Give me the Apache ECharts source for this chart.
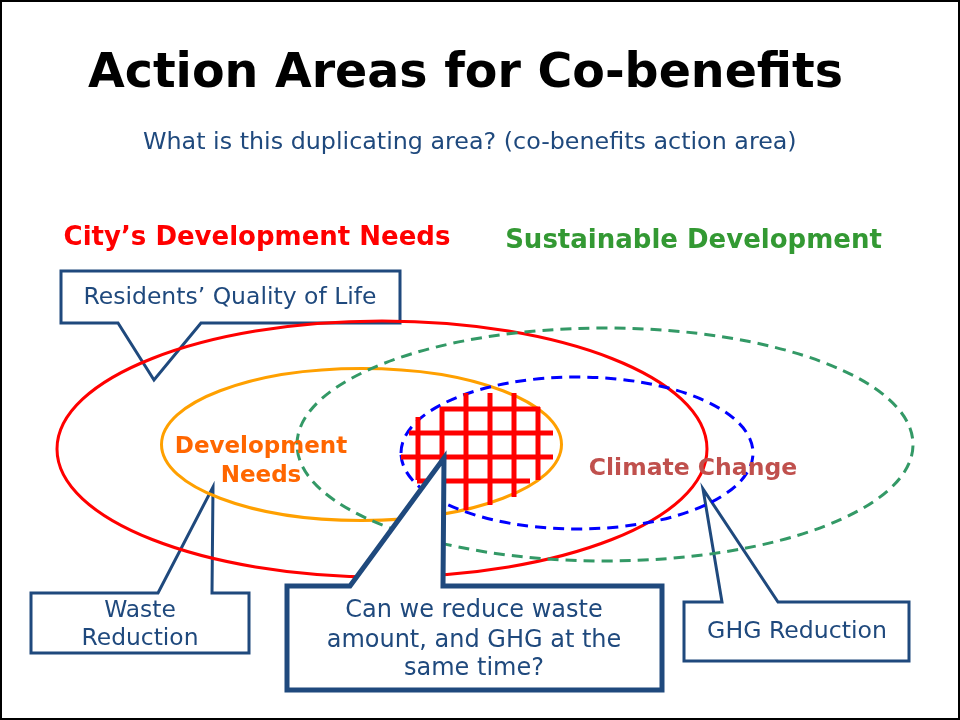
<!DOCTYPE html>
<html>
<head>
<meta charset="utf-8">
<script src="https://cdn.jsdelivr.net/npm/echarts@6/dist/echarts.min.js"></script>
<style>
html,body{margin:0;padding:0;background:#fff;}
#chart{width:960px;height:720px;}
</style>
</head>
<body>
<div id="chart"></div>
<script>
// ---- data (diagram coordinates on a 960 x 720 canvas scale) ----
const titleText = 'Action Areas for Co-benefits';
const subtitleText = 'What is this duplicating area? (co-benefits action area)';

const ellipseNames = ['City\u2019s Development Needs', 'Development Needs', 'Sustainable Development', 'Climate Change'];
const ellipseCX = [382, 361.5, 605, 577];
const ellipseCY = [449, 444.5, 444.5, 453];
const ellipseRX = [325, 200, 308, 176];
const ellipseRY = [128, 76, 116.5, 76];

// co-benefits grid (hatched overlap area)
const gridVX = [418, 442, 466, 490, 514, 538];
const gridVTop = [417, 407, 393, 393, 393, 407];
const gridVBottom = [480, 487, 510, 505, 497, 480];
const gridHY = [409, 433, 457, 481];
const gridHLeft = [441, 409, 401, 417];
const gridHRight = [540, 553, 553, 530];

// area labels
const areaLabels = ['City\u2019s Development Needs', 'Sustainable Development', 'Development', 'Needs', 'Climate Change'];
const areaLabelX = [257, 693.5, 261, 261, 693];
const areaLabelY = [238, 241, 447, 476, 469];

// callouts
const calloutNames = ['Residents\u2019 Quality of Life', 'Waste Reduction', 'GHG Reduction', 'Question'];
const calloutOutlines = [
  [[61,271],[400,271],[400,323],[201,323],[154,380],[118,323],[61,323]],
  [[31,593],[158,593],[213,487],[212,593],[249,593],[249,653],[31,653]],
  [[684,602],[722,602],[703,489],[778,602],[909,602],[909,661],[684,661]],
  [[287,586],[350,586],[444,458],[443,586],[662,586],[662,690],[287,690]]
];
const calloutLines = [
  ['Residents\u2019 Quality of Life'],
  ['Waste', 'Reduction'],
  ['GHG Reduction'],
  ['Can we reduce waste', 'amount, and GHG at the', 'same time?']
];
const calloutTextX = [230, 140, 797, 474];
const calloutTextY = [[298], [611, 639], [632], [611, 641, 669]];

// ---- styles ----
const ellipseStyles = [
  {stroke: '#FF0000', lineWidth: 3},
  {stroke: '#FFA000', lineWidth: 3},
  {stroke: '#339966', lineWidth: 3, lineDash: [11, 7]},
  {stroke: '#0000FF', lineWidth: 3, lineDash: [11, 7]}
];
const areaLabelColors = ['#FF0000', '#339933', '#FF6600', '#FF6600', '#C0504D'];
const areaLabelFont = ['bold 26px "DejaVu Sans"', 'bold 26px "DejaVu Sans"', 'bold 23px "DejaVu Sans"', 'bold 23px "DejaVu Sans"', 'bold 23.5px "DejaVu Sans"'];
const navy = '#1F497D';
const calloutWidth = [3, 3, 3, 5];
const calloutFill = [null, null, null, '#FFFFFF'];
const calloutFont = ['23.5px "DejaVu Sans"', '23.4px "DejaVu Sans"', '23.6px "DejaVu Sans"', '24px "DejaVu Sans"'];
const calloutZ = [1, 1, 1, 5];

const chart = echarts.init(document.getElementById('chart'), null, {renderer: 'canvas'});

function pt(api, p) { return api.coord(p); }

const series = [];

// small callouts (beneath ellipses) and big callout (above)
calloutNames.forEach(function (name, i) {
  series.push({
    type: 'custom', name: name, coordinateSystem: 'cartesian2d', z: calloutZ[i] * 10,
    silent: true,
    data: [calloutOutlines[i][0]],
    renderItem: function (params, api) {
      const pts = calloutOutlines[i].map(function (p) { return pt(api, p); });
      const children = [{
        type: 'polygon',
        shape: {points: pts},
        style: {stroke: navy, lineWidth: calloutWidth[i], fill: calloutFill[i] || 'rgba(0,0,0,0)', lineJoin: 'miter'}
      }];
      calloutLines[i].forEach(function (line, k) {
        const c = pt(api, [calloutTextX[i], calloutTextY[i][k]]);
        children.push({
          type: 'text',
          style: {text: line, x: c[0], y: c[1], fill: navy, font: calloutFont[i], align: 'center', verticalAlign: 'middle'}
        });
      });
      return {type: 'group', children: children};
    }
  });
});

// ellipses
series.push({
  type: 'custom', name: 'areas', coordinateSystem: 'cartesian2d', z: 20, silent: true,
  data: ellipseNames.map(function (n, i) { return [ellipseCX[i], ellipseCY[i], ellipseRX[i], ellipseRY[i]]; }),
  renderItem: function (params, api) {
    const c = api.coord([api.value(0), api.value(1)]);
    const s = api.size([api.value(2), api.value(3)]);
    const st = ellipseStyles[params.dataIndex];
    return {
      type: 'ellipse',
      shape: {cx: c[0], cy: c[1], rx: s[0], ry: s[1]},
      style: {stroke: st.stroke, lineWidth: st.lineWidth, fill: 'rgba(0,0,0,0)', lineDash: st.lineDash || null}
    };
  }
});

// grid: vertical lines
series.push({
  type: 'custom', name: 'grid-v', coordinateSystem: 'cartesian2d', z: 30, silent: true,
  data: gridVX.map(function (x, i) { return [x, gridVTop[i], gridVBottom[i]]; }),
  renderItem: function (params, api) {
    const a = api.coord([api.value(0), api.value(1)]);
    const b = api.coord([api.value(0), api.value(2)]);
    return {type: 'line', shape: {x1: a[0], y1: a[1], x2: b[0], y2: b[1]}, style: {stroke: '#FF0000', lineWidth: 5}};
  }
});
// grid: horizontal lines
series.push({
  type: 'custom', name: 'grid-h', coordinateSystem: 'cartesian2d', z: 30, silent: true,
  data: gridHY.map(function (y, i) { return [gridHLeft[i], gridHRight[i], y]; }),
  renderItem: function (params, api) {
    const a = api.coord([api.value(0), api.value(2)]);
    const b = api.coord([api.value(1), api.value(2)]);
    return {type: 'line', shape: {x1: a[0], y1: a[1], x2: b[0], y2: b[1]}, style: {stroke: '#FF0000', lineWidth: 5}};
  }
});

// area labels
series.push({
  type: 'custom', name: 'labels', coordinateSystem: 'cartesian2d', z: 40, silent: true,
  data: areaLabels.map(function (t, i) { return [areaLabelX[i], areaLabelY[i]]; }),
  renderItem: function (params, api) {
    const c = api.coord([api.value(0), api.value(1)]);
    const i = params.dataIndex;
    return {type: 'text', style: {text: areaLabels[i], x: c[0], y: c[1], fill: areaLabelColors[i], font: areaLabelFont[i], align: 'center', verticalAlign: 'middle'}};
  }
});

chart.setOption({
  animation: false,
  backgroundColor: '#FFFFFF',
  title: [
    {text: titleText, left: 83, top: 46, textStyle: {fontFamily: 'DejaVu Sans', fontWeight: 'bold', fontSize: 47.5, color: '#000000'}},
    {text: subtitleText, left: 138, top: 126, textStyle: {fontFamily: 'DejaVu Sans', fontWeight: 'normal', fontSize: 23.8, color: navy}}
  ],
  grid: {left: 0, right: 0, top: 0, bottom: 0},
  xAxis: {type: 'value', min: 0, max: 960, show: false},
  yAxis: {type: 'value', min: 0, max: 720, inverse: true, show: false},
  graphic: [{
    type: 'rect', z: 100, silent: true,
    shape: {x: 1, y: 1, width: 958, height: 718},
    style: {stroke: '#000000', lineWidth: 2, fill: 'rgba(0,0,0,0)'}
  }],
  series: series
});
</script>
</body>
</html>
